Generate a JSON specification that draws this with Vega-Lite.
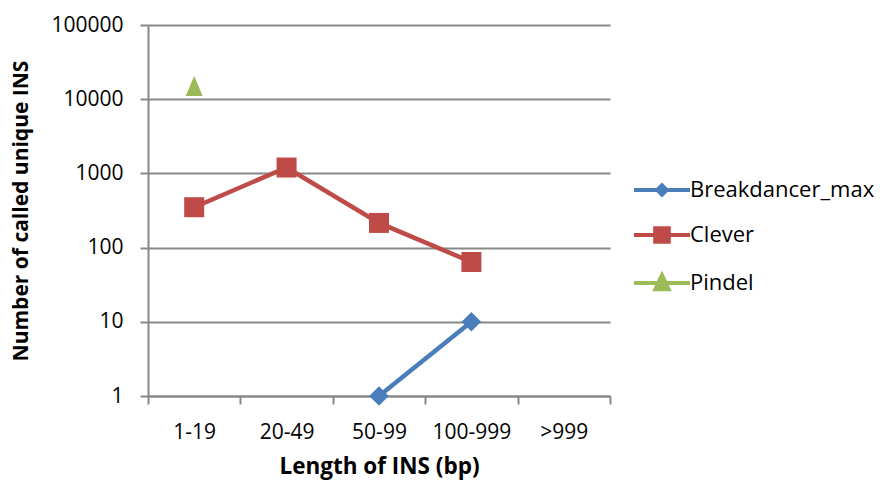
{
  "$schema": "https://vega.github.io/schema/vega-lite/v6.json",
  "width": 462,
  "height": 371,
  "autosize": {"type": "none"},
  "padding": {"left": 148, "top": 25, "right": 273, "bottom": 87},
  "background": "white",
  "config": {
    "view": {"stroke": null},
    "font": "Open Sans"
  },
  "data": {
    "values": [
      {"series": "Breakdancer_max", "length": "50-99", "count": 1},
      {"series": "Breakdancer_max", "length": "100-999", "count": 10},
      {"series": "Clever", "length": "1-19", "count": 350},
      {"series": "Clever", "length": "20-49", "count": 1200},
      {"series": "Clever", "length": "50-99", "count": 215},
      {"series": "Clever", "length": "100-999", "count": 64},
      {"series": "Pindel", "length": "1-19", "count": 15000}
    ]
  },
  "encoding": {
    "x": {
      "field": "length",
      "type": "nominal",
      "scale": {"domain": ["1-19", "20-49", "50-99", "100-999", ">999"], "paddingInner": 0, "paddingOuter": 0},
      "sort": null,
      "axis": {
        "title": "Length of INS (bp)",
        "titleFont": "Open Sans",
        "titleFontWeight": "bold",
        "titleFontSize": 22.5,
        "titleColor": "#000000",
        "titlePadding": 13,
        "labelFont": "Open Sans",
        "labelFontSize": 21,
        "labelColor": "#000000",
        "labelAngle": 0,
        "labelPadding": 17,
        "tickBand": "extent",
        "ticks": true,
        "tickSize": 8,
        "tickColor": "#888888",
        "tickWidth": 2,
        "domainColor": "#888888",
        "domainWidth": 2,
        "grid": false
      }
    },
    "y": {
      "field": "count",
      "type": "quantitative",
      "scale": {"type": "log", "domain": [1, 100000], "nice": false},
      "axis": {
        "title": "Number of called unique INS",
        "titleFont": "Open Sans",
        "titleFontWeight": "bold",
        "titleFontSize": 21,
        "titleColor": "#000000",
        "titlePadding": 19,
        "labelFont": "Open Sans",
        "labelFontSize": 21,
        "labelColor": "#000000",
        "labelPadding": 17,
        "values": [1, 10, 100, 1000, 10000, 100000],
        "format": "d",
        "tickSize": 8,
        "tickColor": "#888888",
        "tickWidth": 2,
        "domainColor": "#888888",
        "domainWidth": 2,
        "grid": true,
        "gridColor": "#888888",
        "gridWidth": 2
      }
    },
    "color": {
      "field": "series",
      "type": "nominal",
      "scale": {"domain": ["Breakdancer_max", "Clever", "Pindel"], "range": ["#4A7EBB", "#BE4B48", "#9BBB59"]},
      "legend": {
        "orient": "none",
        "legendX": 502,
        "legendY": 153,
        "title": null,
        "padding": 0,
        "labelFont": "Open Sans",
        "labelFontSize": 22,
        "labelColor": "#000000",
        "labelLimit": 400,
        "symbolSize": 400,
        "labelOffset": 16,
        "rowPadding": 17,
        "encode": {
          "symbols": {
            "update": {
              "shape": {"signal": "datum.value === 'Breakdancer_max' ? 'M-2.8,0H2.8M-0.47,0L0,-0.47L0.47,0L0,0.47Z' : datum.value === 'Clever' ? 'M-2.8,0H2.8M-0.68,-0.68H0.68V0.68H-0.68Z' : 'M-2.8,0H2.8M0,-0.78L-0.66,0.62L0.66,0.62Z'"},
              "fill": {"scale": "color", "field": "value"},
              "stroke": {"scale": "color", "field": "value"},
              "strokeWidth": {"value": 4},
              "size": {"value": 400},
              "opacity": {"value": 1}
            }
          }
        }
      }
    }
  },
  "layer": [
    {
      "mark": {"type": "line", "strokeWidth": 4.5},
      "encoding": {"order": {"value": null}}
    },
    {
      "transform": [{"filter": "datum.series === 'Breakdancer_max'"}],
      "mark": {"type": "point", "filled": true, "opacity": 1, "shape": "diamond", "size": 380}
    },
    {
      "transform": [{"filter": "datum.series === 'Clever'"}],
      "mark": {"type": "point", "filled": true, "opacity": 1, "shape": "square", "size": 400}
    },
    {
      "transform": [{"filter": "datum.series === 'Pindel'"}],
      "mark": {"type": "point", "filled": true, "opacity": 1, "shape": "M0,-1.2L-1,1.15L1,1.15Z", "size": 289}
    }
  ]
}
